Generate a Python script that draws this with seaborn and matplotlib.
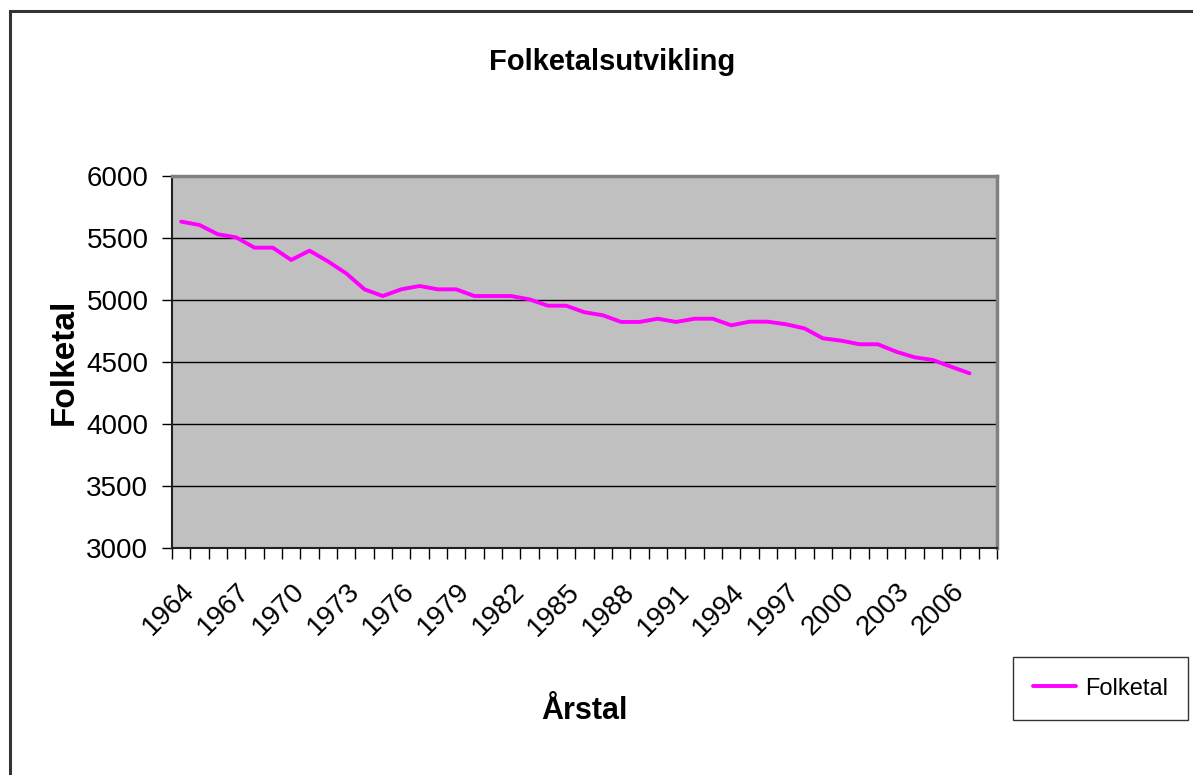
import numpy as np
import pandas as pd
import seaborn as sns
import matplotlib
matplotlib.use("Agg")
from matplotlib import pyplot as plt
from matplotlib.patches import Rectangle
from matplotlib.ticker import MultipleLocator, FixedLocator

# data
years = list(range(1964, 2008))
folketal = [5632, 5605, 5530, 5505, 5422, 5422, 5323, 5398, 5312, 5215,
            5086, 5032, 5086, 5113, 5086, 5086, 5032, 5032, 5032, 5005,
            4954, 4954, 4901, 4877, 4823, 4823, 4849, 4823, 4849, 4849,
            4796, 4825, 4825, 4804, 4771, 4691, 4672, 4643, 4643, 4583,
            4538, 4516, 4462, 4409]
tick_years = list(range(1964, 2007, 3))

df = pd.DataFrame({"Årstal": years, "Folketal": folketal})

sns.set_style("white")
plt.rcParams['font.family'] = ['Liberation Sans', 'DejaVu Sans']
plt.rcParams['text.color'] = 'black'
plt.rcParams['axes.labelcolor'] = 'black'
plt.rcParams['xtick.color'] = 'black'
plt.rcParams['ytick.color'] = 'black'

fig = plt.figure(figsize=(11.93, 7.75), dpi=100)
ax = fig.add_axes([172/1193, 1 - 548/775, 825/1193, 372/775])
ax.set_facecolor('#c0c0c0')

sns.lineplot(data=df, x="Årstal", y="Folketal", color='#ff00ff', lw=2.8,
             label="Folketal", ax=ax)

ax.set_xlim(1963.5, 2008.5)
ax.set_ylim(3000, 6000)
ax.yaxis.set_major_locator(MultipleLocator(500))
ax.yaxis.grid(True, color='black', lw=1)
ax.set_axisbelow(True)

ax.xaxis.set_major_locator(FixedLocator(tick_years))
ax.set_xticklabels([str(y) for y in tick_years], rotation=45, ha='right',
                   rotation_mode='anchor', fontsize=20)
ax.xaxis.set_minor_locator(FixedLocator(np.arange(1963.5, 2009, 1)))
ax.tick_params(axis='x', which='major', length=0, pad=22)
ax.tick_params(axis='x', which='minor', length=8, width=1, color='black', direction='out', bottom=True)
ax.tick_params(axis='y', length=7, width=1, color='black', direction='out', left=True,
               labelsize=20, pad=10)

for s in ['left', 'bottom']:
    ax.spines[s].set_color('#202020')
    ax.spines[s].set_linewidth(1.5)
for s in ['top', 'right']:
    ax.spines[s].set_color('#808080')
    ax.spines[s].set_linewidth(2.5)

ax.set_xlabel("Årstal", fontsize=22, fontweight='bold', labelpad=40)
ax.set_ylabel("Folketal", fontsize=24, fontweight='bold', labelpad=5)
fig.text(612/1193, 1 - 62/775, "Folketalsutvikling", ha='center', va='center',
         fontsize=21, fontweight='bold')

leg = ax.legend(loc='upper left', bbox_to_anchor=(1013/1193, 1 - 657/775),
                bbox_transform=fig.transFigure, frameon=True, fancybox=False,
                fontsize=17, handlelength=1.8, handleheight=0.9, handletextpad=0.4,
                borderpad=0.85, borderaxespad=0)
leg.get_frame().set_edgecolor('black')
leg.get_frame().set_linewidth(1)

# chart area frame
fig.patches.append(Rectangle((10/1193, -0.1), 1.2, 1.1 - 11/775,
                             transform=fig.transFigure, fill=False,
                             edgecolor='#333333', lw=2.2))

fig.savefig("out.png", dpi=100)
